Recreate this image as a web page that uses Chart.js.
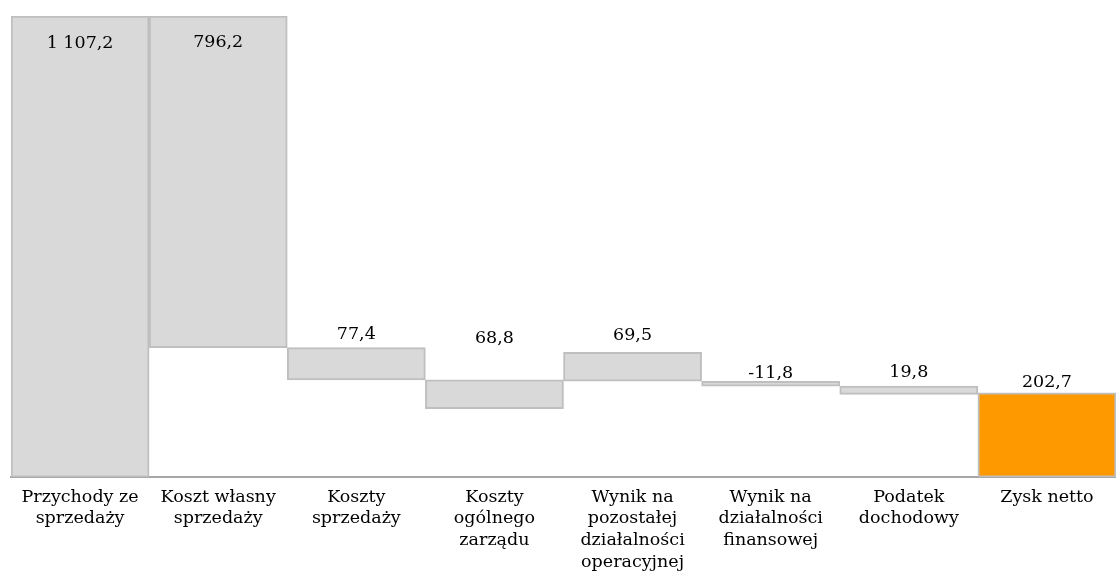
<!DOCTYPE html>
<html lang="pl">
<head>
<meta charset="utf-8">
<title>Rachunek wyników</title>
<script src="https://cdn.jsdelivr.net/npm/chart.js@4/dist/chart.umd.min.js"></script>
<style>
  html, body { margin: 0; padding: 0; background: #ffffff; }
  #wrap { position: relative; width: 1116px; height: 581px; }
</style>
</head>
<body>
<div id="wrap"><canvas id="chart"></canvas></div>
<script>
// Category names (one array entry per line of the axis label)
const categories = [
  ['Przychody ze', 'sprzedaży'],
  ['Koszt własny', 'sprzedaży'],
  ['Koszty', 'sprzedaży'],
  ['Koszty', 'ogólnego', 'zarządu'],
  ['Wynik na', 'pozostałej', 'działalności', 'operacyjnej'],
  ['Wynik na', 'działalności', 'finansowej'],
  ['Podatek', 'dochodowy'],
  ['Zysk netto']
];

// Reported amounts (mln zł)
const values = [1107.2, 796.2, 77.4, 68.8, 69.5, -11.8, 19.8, 202.7];

// Level at which each floating bar starts
const barStarts = [0, 311.0, 233.6, 164.8, 230.4, 218.6, 198.8, 0];

const GREY_FILL = '#d9d9d9';
const GREY_EDGE = '#bfbfbf';
const ORANGE = '#ff9900';
const FONT = '"DejaVu Serif", "Liberation Serif", serif';

// Polish number format: space as thousands separator, comma as decimal mark
function fmt(v) {
  const sign = v < 0 ? '-' : '';
  const parts = Math.abs(v).toFixed(1).split('.');
  const intPart = parts[0].replace(/\B(?=(\d{3})+(?!\d))/g, ' ');
  return sign + intPart + ',' + parts[1];
}

const ranges = values.map((v, i) => [barStarts[i], barStarts[i] + Math.abs(v)]);
const fills = values.map((v, i) => i === values.length - 1 ? ORANGE : GREY_FILL);

// Vertical placement of each value label relative to the bar top (px, + = inside)
const labelShift = [27, 26, -13, -41, -17, -8, -14, -10];

const valueLabels = {
  id: 'valueLabels',
  afterDatasetsDraw(chart) {
    const ctx = chart.ctx;
    const meta = chart.getDatasetMeta(0);
    ctx.save();
    ctx.font = '17.5px ' + FONT;
    ctx.fillStyle = '#000000';
    ctx.textAlign = 'center';
    ctx.textBaseline = 'middle';
    meta.data.forEach((bar, i) => {
      const top = Math.min(bar.y, bar.base);
      ctx.fillText(fmt(values[i]), bar.x, top + labelShift[i]);
    });
    ctx.restore();
  }
};

new Chart(document.getElementById('chart'), {
  type: 'bar',
  data: {
    labels: categories,
    datasets: [{
      data: ranges,
      backgroundColor: fills,
      borderColor: GREY_EDGE,
      borderWidth: 2,
      borderSkipped: false,
      barPercentage: 1,
      categoryPercentage: 1
    }]
  },
  options: {
    responsive: true,
    maintainAspectRatio: false,
    animation: false,
    layout: { padding: { left: 11, right: 0, top: 16, bottom: -1 } },
    plugins: {
      legend: { display: false },
      tooltip: { enabled: false }
    },
    scales: {
      x: {
        grid: { display: true, drawOnChartArea: false, drawTicks: false },
        border: { display: true, color: '#a6a6a6', width: 2 },
        ticks: {
          color: '#000000',
          padding: 9,
          maxRotation: 0,
          autoSkip: false,
          font: { family: FONT, size: 17.5, lineHeight: 1.24 }
        }
      },
      y: {
        display: false,
        min: 0,
        max: 1107.2
      }
    }
  },
  plugins: [valueLabels]
});
</script>
</body>
</html>
